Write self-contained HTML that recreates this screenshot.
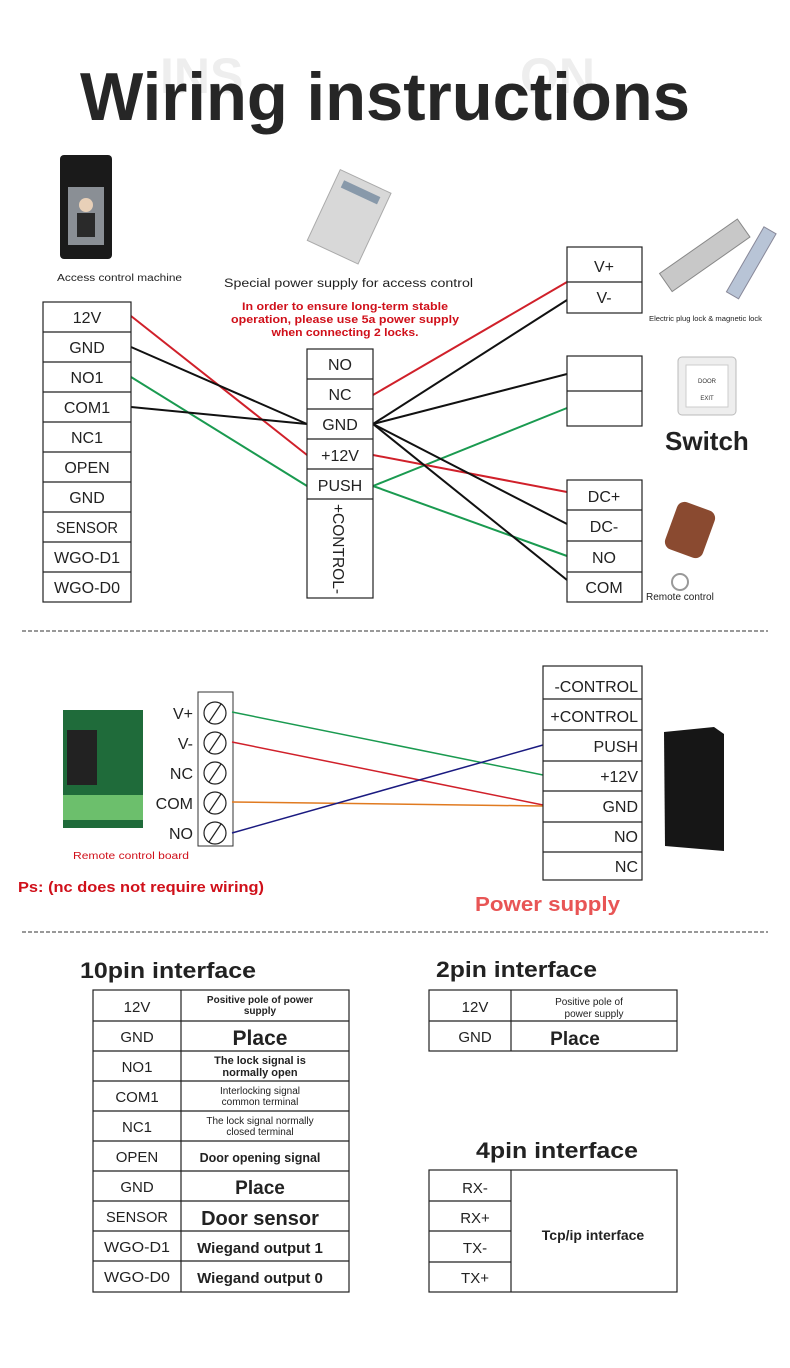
<!DOCTYPE html>
<html><head><meta charset="utf-8"><style>
html,body{margin:0;padding:0;background:#fff;}
svg{display:block;font-family:"Liberation Sans",sans-serif;}
</style></head><body>
<svg width="790" height="1368" viewBox="0 0 790 1368" xmlns="http://www.w3.org/2000/svg">
<rect width="790" height="1368" fill="#fff"/>
<text x="160" y="93" font-size="50" font-weight="bold" fill="#eee">INS</text>
<text x="520" y="93" font-size="50" font-weight="bold" fill="#eee">ON</text>
<text x="80" y="120" font-size="68" font-weight="bold" fill="#262626" textLength="610" lengthAdjust="spacingAndGlyphs">Wiring instructions</text>

<rect x="60" y="155" width="52" height="104" rx="4" fill="#1a1a1a"/>
<rect x="68" y="187" width="36" height="58" fill="#8a8f95"/>
<circle cx="86" cy="205" r="7" fill="#e8d0b8"/>
<rect x="77" y="213" width="18" height="24" fill="#2a2a2a"/>
<text x="57" y="281" font-size="10" fill="#222" textLength="125" lengthAdjust="spacingAndGlyphs">Access control machine</text>

<g transform="rotate(25 350 215)"><rect x="322" y="178" width="56" height="78" fill="#d8d8d8" stroke="#aaa"/><rect x="330" y="186" width="40" height="8" fill="#8899aa"/></g>
<text x="224" y="287" font-size="11.5" fill="#222" textLength="249" lengthAdjust="spacingAndGlyphs">Special power supply for access control</text>
<g font-size="11" fill="#d0101a" font-weight="bold" text-anchor="middle">
<text x="345" y="310" textLength="206" lengthAdjust="spacingAndGlyphs">In order to ensure long-term stable</text>
<text x="345" y="323" textLength="228" lengthAdjust="spacingAndGlyphs">operation, please use 5a power supply</text>
<text x="345" y="336" textLength="147" lengthAdjust="spacingAndGlyphs">when connecting 2 locks.</text>
</g>

<g transform="rotate(-35 705 260)"><rect x="660" y="245" width="95" height="22" fill="#c8c8c8" stroke="#888"/></g>
<g transform="rotate(-60 750 265)"><rect x="715" y="258" width="75" height="14" fill="#b8c4d6" stroke="#889"/></g>
<text x="649" y="321" font-size="7" fill="#222" textLength="113" lengthAdjust="spacingAndGlyphs">Electric plug lock &amp; magnetic lock</text>

<rect x="678" y="357" width="58" height="58" rx="4" fill="#eee" stroke="#bbb"/>
<rect x="686" y="365" width="42" height="42" fill="#fff" stroke="#ccc"/>
<text x="707" y="383" font-size="6" text-anchor="middle" fill="#333">DOOR</text>
<text x="707" y="400" font-size="6" text-anchor="middle" fill="#333">EXIT</text>
<text x="665" y="450" font-size="26" font-weight="bold" fill="#222">Switch</text>

<g transform="rotate(20 690 530)"><rect x="670" y="505" width="40" height="50" rx="8" fill="#8a4a30"/></g>
<circle cx="680" cy="582" r="8" fill="none" stroke="#999" stroke-width="2"/>
<text x="646" y="600" font-size="10" fill="#222">Remote control</text>

<g fill="none" stroke-width="2">
<line x1="131" y1="316" x2="307" y2="455" stroke="#d0202a"/>
<line x1="131" y1="347" x2="307" y2="424" stroke="#111"/>
<line x1="131" y1="377" x2="307" y2="486" stroke="#1a9a50"/>
<line x1="131" y1="407" x2="307" y2="424" stroke="#111"/>
<line x1="373" y1="395" x2="567" y2="282" stroke="#d0202a"/>
<line x1="373" y1="424" x2="567" y2="300" stroke="#111"/>
<line x1="373" y1="424" x2="567" y2="374" stroke="#111"/>
<line x1="373" y1="486" x2="567" y2="408" stroke="#1a9a50"/>
<line x1="373" y1="455" x2="567" y2="492" stroke="#d0202a"/>
<line x1="373" y1="424" x2="567" y2="524" stroke="#111"/>
<line x1="373" y1="486" x2="567" y2="556" stroke="#1a9a50"/>
<line x1="373" y1="424" x2="567" y2="580" stroke="#111"/>
</g>

<g stroke="#222" stroke-width="1.2" fill="#fff">
<rect x="43" y="302" width="88" height="300"/>
<line x1="43" y1="332" x2="131" y2="332"/><line x1="43" y1="362" x2="131" y2="362"/><line x1="43" y1="392" x2="131" y2="392"/><line x1="43" y1="422" x2="131" y2="422"/><line x1="43" y1="452" x2="131" y2="452"/><line x1="43" y1="482" x2="131" y2="482"/><line x1="43" y1="512" x2="131" y2="512"/><line x1="43" y1="542" x2="131" y2="542"/><line x1="43" y1="572" x2="131" y2="572"/>
<rect x="307" y="349" width="66" height="249"/>
<line x1="307" y1="379" x2="373" y2="379"/><line x1="307" y1="409" x2="373" y2="409"/><line x1="307" y1="439" x2="373" y2="439"/><line x1="307" y1="469" x2="373" y2="469"/><line x1="307" y1="499" x2="373" y2="499"/>
<rect x="567" y="247" width="75" height="66"/><line x1="567" y1="282" x2="642" y2="282"/>
<rect x="567" y="356" width="75" height="70"/><line x1="567" y1="391" x2="642" y2="391"/>
<rect x="567" y="480" width="75" height="122"/><line x1="567" y1="510" x2="642" y2="510"/><line x1="567" y1="541" x2="642" y2="541"/><line x1="567" y1="572" x2="642" y2="572"/>
</g>
<g font-size="16" fill="#222" text-anchor="middle">
<text x="87" y="323">12V</text><text x="87" y="353">GND</text><text x="87" y="383">NO1</text><text x="87" y="413">COM1</text><text x="87" y="443">NC1</text><text x="87" y="473">OPEN</text><text x="87" y="503">GND</text><text x="87" y="533" textLength="62" lengthAdjust="spacingAndGlyphs">SENSOR</text><text x="87" y="563" textLength="66" lengthAdjust="spacingAndGlyphs">WGO-D1</text><text x="87" y="593" textLength="66" lengthAdjust="spacingAndGlyphs">WGO-D0</text>
<text x="340" y="370">NO</text><text x="340" y="400">NC</text><text x="340" y="430">GND</text><text x="340" y="461">+12V</text><text x="340" y="491">PUSH</text>
<text x="604" y="272">V+</text><text x="604" y="303">V-</text>
<text x="604" y="502">DC+</text><text x="604" y="532">DC-</text><text x="604" y="563">NO</text><text x="604" y="593">COM</text>
</g>
<text transform="translate(333 504) rotate(90)" font-size="16" fill="#222" textLength="90" lengthAdjust="spacingAndGlyphs">+CONTROL-</text>

<line x1="22" y1="631" x2="768" y2="631" stroke="#333" stroke-dasharray="4,2"/>
<line x1="22" y1="932" x2="768" y2="932" stroke="#333" stroke-dasharray="4,2"/>

<rect x="63" y="710" width="80" height="118" fill="#1f6b3a"/>
<rect x="67" y="730" width="30" height="55" fill="#222"/>
<rect x="63" y="795" width="80" height="25" fill="#6cbf6c"/>
<text x="73" y="859" font-size="10" fill="#d0101a" textLength="116" lengthAdjust="spacingAndGlyphs">Remote control board</text>
<text x="18" y="892" font-size="15" font-weight="bold" fill="#d0101a" textLength="246" lengthAdjust="spacingAndGlyphs">Ps: (nc does not require wiring)</text>

<rect x="198" y="692" width="35" height="154" fill="#fff" stroke="#333"/>
<g fill="none" stroke="#222" stroke-width="1.2">
<circle cx="215" cy="713" r="11"/><line x1="209" y1="722" x2="221" y2="704"/>
<circle cx="215" cy="743" r="11"/><line x1="209" y1="752" x2="221" y2="734"/>
<circle cx="215" cy="773" r="11"/><line x1="209" y1="782" x2="221" y2="764"/>
<circle cx="215" cy="803" r="11"/><line x1="209" y1="812" x2="221" y2="794"/>
<circle cx="215" cy="833" r="11"/><line x1="209" y1="842" x2="221" y2="824"/>
</g>
<g font-size="16" fill="#222" text-anchor="end">
<text x="193" y="719">V+</text><text x="193" y="749">V-</text><text x="193" y="779">NC</text><text x="193" y="809">COM</text><text x="193" y="839">NO</text>
</g>
<g fill="none" stroke-width="1.5">
<line x1="232" y1="712" x2="543" y2="775" stroke="#1a9a50"/>
<line x1="232" y1="742" x2="543" y2="805" stroke="#d0202a"/>
<line x1="232" y1="802" x2="543" y2="806" stroke="#e07a20"/>
<line x1="232" y1="833" x2="543" y2="745" stroke="#1a1a80"/>
</g>
<g stroke="#222" stroke-width="1.2" fill="none">
<rect x="543" y="666" width="99" height="214"/>
<line x1="543" y1="699" x2="642" y2="699"/><line x1="543" y1="730" x2="642" y2="730"/><line x1="543" y1="761" x2="642" y2="761"/><line x1="543" y1="791" x2="642" y2="791"/><line x1="543" y1="822" x2="642" y2="822"/><line x1="543" y1="852" x2="642" y2="852"/>
</g>
<g font-size="16" fill="#222" text-anchor="end">
<text x="638" y="692">-CONTROL</text><text x="638" y="722">+CONTROL</text><text x="638" y="752">PUSH</text><text x="638" y="782">+12V</text><text x="638" y="812">GND</text><text x="638" y="842">NO</text><text x="638" y="872">NC</text>
</g>
<polygon points="664,732 714,727 724,734 724,851 665,846" fill="#161616"/>
<text x="475" y="911" font-size="20" font-weight="bold" fill="#e85555" textLength="145" lengthAdjust="spacingAndGlyphs">Power supply</text>

<text x="80" y="978" font-size="22" font-weight="bold" fill="#222" textLength="176" lengthAdjust="spacingAndGlyphs">10pin interface</text>
<text x="436" y="977" font-size="22" font-weight="bold" fill="#222" textLength="161" lengthAdjust="spacingAndGlyphs">2pin interface</text>
<text x="476" y="1158" font-size="22" font-weight="bold" fill="#222" textLength="162" lengthAdjust="spacingAndGlyphs">4pin interface</text>

<g stroke="#222" stroke-width="1.2" fill="none">
<rect x="93" y="990" width="256" height="302"/><line x1="181" y1="990" x2="181" y2="1292"/>
<line x1="93" y1="1021" x2="349" y2="1021"/><line x1="93" y1="1051" x2="349" y2="1051"/><line x1="93" y1="1081" x2="349" y2="1081"/><line x1="93" y1="1111" x2="349" y2="1111"/><line x1="93" y1="1141" x2="349" y2="1141"/><line x1="93" y1="1171" x2="349" y2="1171"/><line x1="93" y1="1201" x2="349" y2="1201"/><line x1="93" y1="1231" x2="349" y2="1231"/><line x1="93" y1="1261" x2="349" y2="1261"/>
<rect x="429" y="990" width="248" height="61"/><line x1="511" y1="990" x2="511" y2="1051"/><line x1="429" y1="1021" x2="677" y2="1021"/>
<rect x="429" y="1170" width="248" height="122"/><line x1="511" y1="1170" x2="511" y2="1292"/>
<line x1="429" y1="1201" x2="511" y2="1201"/><line x1="429" y1="1231" x2="511" y2="1231"/><line x1="429" y1="1262" x2="511" y2="1262"/>
</g>
<g font-size="15" fill="#222" text-anchor="middle">
<text x="137" y="1012">12V</text><text x="137" y="1042">GND</text><text x="137" y="1072">NO1</text><text x="137" y="1102">COM1</text><text x="137" y="1132">NC1</text><text x="137" y="1162">OPEN</text><text x="137" y="1192">GND</text><text x="137" y="1222" textLength="62" lengthAdjust="spacingAndGlyphs">SENSOR</text><text x="137" y="1252" textLength="66" lengthAdjust="spacingAndGlyphs">WGO-D1</text><text x="137" y="1282" textLength="66" lengthAdjust="spacingAndGlyphs">WGO-D0</text>
<text x="475" y="1012">12V</text><text x="475" y="1042">GND</text>
<text x="475" y="1193">RX-</text><text x="475" y="1223">RX+</text><text x="475" y="1253">TX-</text><text x="475" y="1283">TX+</text>
</g>
<g fill="#222" text-anchor="middle" font-weight="bold">
<text x="260" y="1003" font-size="10">Positive pole of power</text><text x="260" y="1014" font-size="10">supply</text>
<text x="260" y="1045" font-size="21">Place</text>
<text x="260" y="1064" font-size="11">The lock signal is</text><text x="260" y="1076" font-size="11">normally open</text>
<text x="260" y="1094" font-size="10" font-weight="normal">Interlocking signal</text><text x="260" y="1105" font-size="10" font-weight="normal">common terminal</text>
<text x="260" y="1124" font-size="10" font-weight="normal">The lock signal normally</text><text x="260" y="1135" font-size="10" font-weight="normal">closed terminal</text>
<text x="260" y="1162" font-size="12.5">Door opening signal</text>
<text x="260" y="1194" font-size="19">Place</text>
<text x="260" y="1225" font-size="20">Door sensor</text>
<text x="260" y="1253" font-size="15">Wiegand output 1</text>
<text x="260" y="1283" font-size="15">Wiegand output 0</text>
<text x="589" y="1005" font-size="10" font-weight="normal">Positive pole of</text><text x="594" y="1017" font-size="10" font-weight="normal">power supply</text>
<text x="575" y="1045" font-size="19">Place</text>
<text x="593" y="1240" font-size="14">Tcp/ip interface</text>
</g>
</svg>
</body></html>
